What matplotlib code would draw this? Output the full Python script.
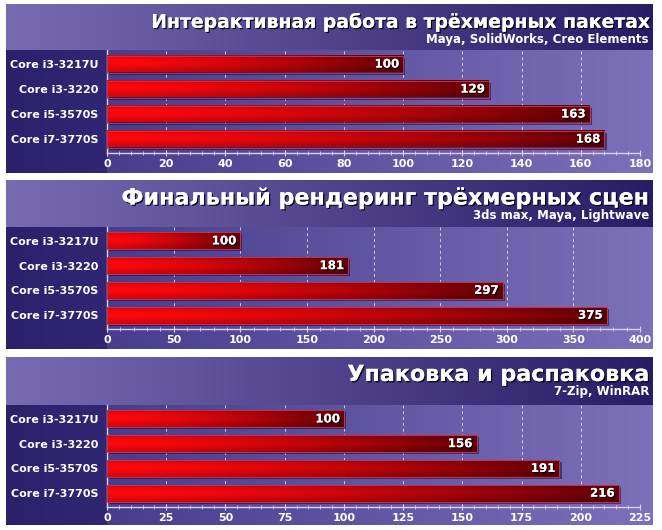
import matplotlib
matplotlib.use('Agg')
import matplotlib.pyplot as plt
import matplotlib.patheffects as pe
from matplotlib.ticker import MultipleLocator, AutoMinorLocator
import numpy as np

# данные
cpus = ['Core i3-3217U', 'Core i3-3220', 'Core i5-3570S', 'Core i7-3770S']
titles = ['Интерактивная работа в трёхмерных пакетах',
          'Финальный рендеринг трёхмерных сцен',
          'Упаковка и распаковка']
subtitles = ['Maya, SolidWorks, Creo Elements',
             '3ds max, Maya, Lightwave',
             '7-Zip, WinRAR']
vals_3d = [100, 129, 163, 168]
vals_render = [100, 181, 297, 375]
vals_zip = [100, 156, 191, 216]
xmax = [180, 400, 225]
xstep = [20, 50, 25]
values = [vals_3d, vals_render, vals_zip]

W, H = 662, 530
# геометрия панелей в пикселях: верх, верх графика, ось, низ
panels = [(4, 50, 153, 173), (180, 227, 329, 349), (357, 405, 507, 525)]
title_left = [150, None, None]
x_left, x_lab, x_axis0, x_axis1, x_right = 6, 107, 107, 640, 653

fig = plt.figure(figsize=(W/100, H/100), dpi=100)
fig.patch.set_facecolor('white')

# фон
bg = fig.add_axes([0, 0, 1, 1])
bg.set_xlim(0, W)
bg.set_ylim(H, 0)
bg.axis('off')

def hgrad(c1, c2, n=256, vdark=0.0):
    t = np.linspace(0, 1, n)
    v = np.linspace(0, 1, 32)[:, None]
    c1 = np.array(c1); c2 = np.array(c2)
    img = c1[None, None, :] + (c2 - c1)[None, None, :]*t[None, :, None]
    img = img*(1 - vdark*v[:, :, None])
    return np.clip(img, 0, 1)

for (top, ptop, axy, bot) in panels:
    bg.imshow(hgrad((0.47, 0.42, 0.70), (0.16, 0.11, 0.40)),
              extent=(x_left, x_right, ptop, top), aspect='auto',
              interpolation='bilinear')
    bg.imshow(hgrad((0.17, 0.13, 0.42), (0.19, 0.15, 0.45)),
              extent=(x_left, x_lab, bot, ptop), aspect='auto',
              interpolation='bilinear')
    bg.imshow(hgrad((0.28, 0.24, 0.55), (0.49, 0.44, 0.73)),
              extent=(x_lab, x_right, bot, ptop), aspect='auto',
              interpolation='bilinear')

# градиент полосы
def bar_img():
    t = np.linspace(0, 1, 256)
    v = np.linspace(0, 1, 40)
    c1 = np.array([1.0, 0.03, 0.05]); c2 = np.array([0.38, 0.0, 0.02])
    img = c1[None, None, :] + (c2 - c1)[None, None, :]*(t**1.5)[None, :, None]
    shade = 0.84 + 0.16*np.sin(np.pi*np.clip(v*1.15, 0, 1))
    img = img*shade[:, None, None]
    return np.clip(img, 0, 1)

barimg = bar_img()
txt_fx = [pe.withSimplePatchShadow(offset=(1, -1), shadow_rgbFace='black', alpha=0.8), pe.Normal()]

title_objs = []
for k, (top, ptop, axy, bot) in enumerate(panels):
    ax = fig.add_axes([x_axis0/W, 1 - axy/H, (x_axis1 - x_axis0)/W, (axy - ptop)/H])
    ax.patch.set_alpha(0)
    y = np.arange(len(cpus))
    hgt = 0.68
    for yi, v in zip(y, values[k]):
        ax.bar(v/2 + 0.004*xmax[k], hgt, width=v, bottom=yi - hgt/2 + 0.08,
               color=(0.1, 0.0, 0.15), alpha=0.5, zorder=2)
        ax.imshow(barimg, extent=(0, v, yi + hgt/2, yi - hgt/2), aspect='auto',
                  interpolation='bilinear', zorder=3)
        ax.annotate(str(v), (v, yi), xytext=(-3, 0), textcoords='offset points',
                    ha='right', va='center', color='white', fontsize=8.5,
                    fontweight='bold', zorder=5, path_effects=txt_fx)
    ax.barh(y, values[k], height=hgt, facecolor='none', edgecolor=(0.75, 0.2, 0.35),
            linewidth=0.7, zorder=4)
    ax.set_xlim(0, xmax[k])
    ax.set_ylim(len(cpus) - 1 + 0.56, -0.56)
    ax.xaxis.set_major_locator(MultipleLocator(xstep[k]))
    ax.xaxis.set_minor_locator(AutoMinorLocator(5))
    ax.set_yticks(y)
    ax.set_yticklabels(cpus)
    ax.grid(axis='x', color='white', linestyle=(0, (3, 3)), linewidth=0.7, alpha=0.7, zorder=1)
    ax.set_axisbelow(True)
    for s in ['top', 'right']:
        ax.spines[s].set_visible(False)
    for s in ['left', 'bottom']:
        ax.spines[s].set_color((0.85, 0.82, 0.95))
        ax.spines[s].set_linewidth(1)
    ax.tick_params(axis='x', which='major', direction='inout', length=5, color=(0.85, 0.82, 0.95),
                   labelcolor='white', labelsize=8, pad=2)
    ax.tick_params(axis='x', which='minor', direction='inout', length=2.5, color=(0.85, 0.82, 0.95))
    ax.tick_params(axis='y', length=0, labelcolor='white', labelsize=8, pad=6)
    for lab in ax.get_xticklabels() + ax.get_yticklabels():
        lab.set_fontweight('bold')
    # заголовки
    t = fig.text(650/W, 1 - (top + 18)/H, titles[k], ha='right', va='center', color='white',
                 fontsize=16, fontweight='bold', path_effects=txt_fx)
    title_objs.append(t)
    fig.text(649/W, 1 - (top + 35)/H, subtitles[k], ha='right', va='center', color='white',
             fontsize=8.5, fontweight='bold')

# сжать длинный заголовок, чтобы он влез как в оригинале
fig.canvas.draw()
r = fig.canvas.get_renderer()
for t, tl in zip(title_objs, title_left):
    if tl is not None:
        w = t.get_window_extent(r).width
        t.set_fontsize(16*(650 - tl)/w)

fig.savefig('out.png', dpi=100)
